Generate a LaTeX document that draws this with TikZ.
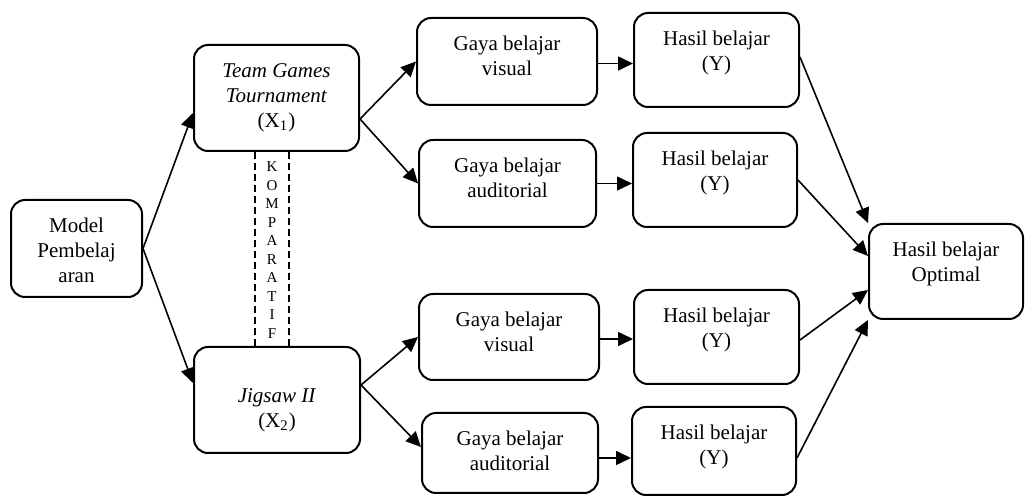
\documentclass[tikz,border=0pt]{standalone}
\usepackage{fontspec}
\setmainfont{Liberation Serif}
\usetikzlibrary{arrows.meta}

\tikzset{
  box/.style={draw, line width=1pt, rounded corners=7pt, inner sep=0pt},
  txt/.style={label={[align=center, anchor=north, inner sep=0pt, yshift=-9.5pt]north:#1}},
  arr/.style={line width=0.8pt, -{Triangle[length=7.5pt, width=7pt]}}
}

\begin{document}
\begin{tikzpicture}[x=0.5pt, y=-0.5pt, font=\fontsize{10.5}{12.5}\selectfont]
  \useasboundingbox (0,0) rectangle (1025,497);
  % left part
  \node[box, minimum width=65.5pt, minimum height=48.5pt, txt={Model\\Pembelaj\\aran}] (model) at (76.5,248.5) {};
  \node[box, minimum width=82.5pt, minimum height=53pt, txt={\textit{Team Games}\\\textit{Tournament}\\(X\textsubscript{1})}] (tgt) at (276.5,98) {};
  \node[box, minimum width=83pt, minimum height=53pt,
    label={[align=center, anchor=north, inner sep=0pt, yshift=-21pt]north:\textit{Jigsaw II}\\(X\textsubscript{2})}] (jig) at (277,400) {};
  \draw[line width=1pt, dash pattern=on 3.5pt off 2pt] ([xshift=-11pt]tgt.south) -- ([xshift=-11pt]tgt.south |- jig.north);
  \draw[line width=1pt, dash pattern=on 3.5pt off 2pt] ([xshift=6pt]tgt.south) -- ([xshift=6pt]tgt.south |- jig.north);
  \node[align=center, inner sep=0pt, font=\fontsize{7.5}{9.25}\selectfont] (komp) at (272,250) {K\\O\\M\\P\\A\\R\\A\\T\\I\\F};
  % gaya belajar
  \node[box, minimum width=90pt, minimum height=43.5pt, txt={Gaya belajar\\visual}] (gv1) at (507,61.5) {};
  \node[box, minimum width=88.5pt, minimum height=43.5pt, txt={Gaya belajar\\auditorial}] (ga1) at (507.5,183.5) {};
  \node[box, minimum width=90pt, minimum height=43pt, txt={Gaya belajar\\visual}] (gv2) at (509,337) {};
  \node[box, minimum width=88pt, minimum height=40pt, txt={Gaya belajar\\auditorial}] (ga2) at (510,453) {};
  % hasil belajar
  \node[box, minimum width=82.5pt, minimum height=47pt, txt={Hasil belajar\\(Y)}] (h1) at (716.5,60) {};
  \node[box, minimum width=82pt, minimum height=47pt, txt={Hasil belajar\\(Y)}] (h2) at (715,180) {};
  \node[box, minimum width=82.5pt, minimum height=47pt, txt={Hasil belajar\\(Y)}] (h3) at (716.5,337) {};
  \node[box, minimum width=82pt, minimum height=44pt, txt={Hasil belajar\\(Y)}] (h4) at (714,451) {};
  \node[box, minimum width=77pt, minimum height=47.5pt, txt={Hasil belajar\\Optimal}] (opt) at (946,271.5) {};
  % arrows
  \draw[arr] (model.east) -- ([yshift=-7.5pt]tgt.west);
  \draw[arr] (model.east) -- ([yshift=8.5pt]jig.west);
  \draw[arr] ([yshift=-10.5pt]tgt.east) -- (gv1.west);
  \draw[arr] ([yshift=-10.5pt]tgt.east) -- (ga1.west);
  \draw[arr] ([yshift=7.5pt]jig.east) -- (gv2.west);
  \draw[arr] ([yshift=7.5pt]jig.east) -- ([yshift=3pt]ga2.west);
  \draw[arr] ([yshift=-1pt]gv1.east) -- ([yshift=-1pt]gv1.east -| h1.west);
  \draw[arr] (ga1.east) -- (ga1.east -| h2.west);
  \draw[arr] ([yshift=-1pt]gv2.east) -- ([yshift=-1pt]gv2.east -| h3.west);
  \draw[arr] ([yshift=-2.5pt]ga2.east) -- ([yshift=-2.5pt]ga2.east -| h4.west);
  \draw[arr] ([yshift=1.5pt]h1.east) -- (opt.north west);
  \draw[arr] (h2.east) -- ([yshift=7.75pt]opt.west);
  \draw[arr] ([yshift=-1.5pt]h3.east) -- ([yshift=-9.25pt]opt.west);
  \draw[arr] ([yshift=-3.5pt]h4.east) -- (opt.south west);
\end{tikzpicture}
\end{document}
